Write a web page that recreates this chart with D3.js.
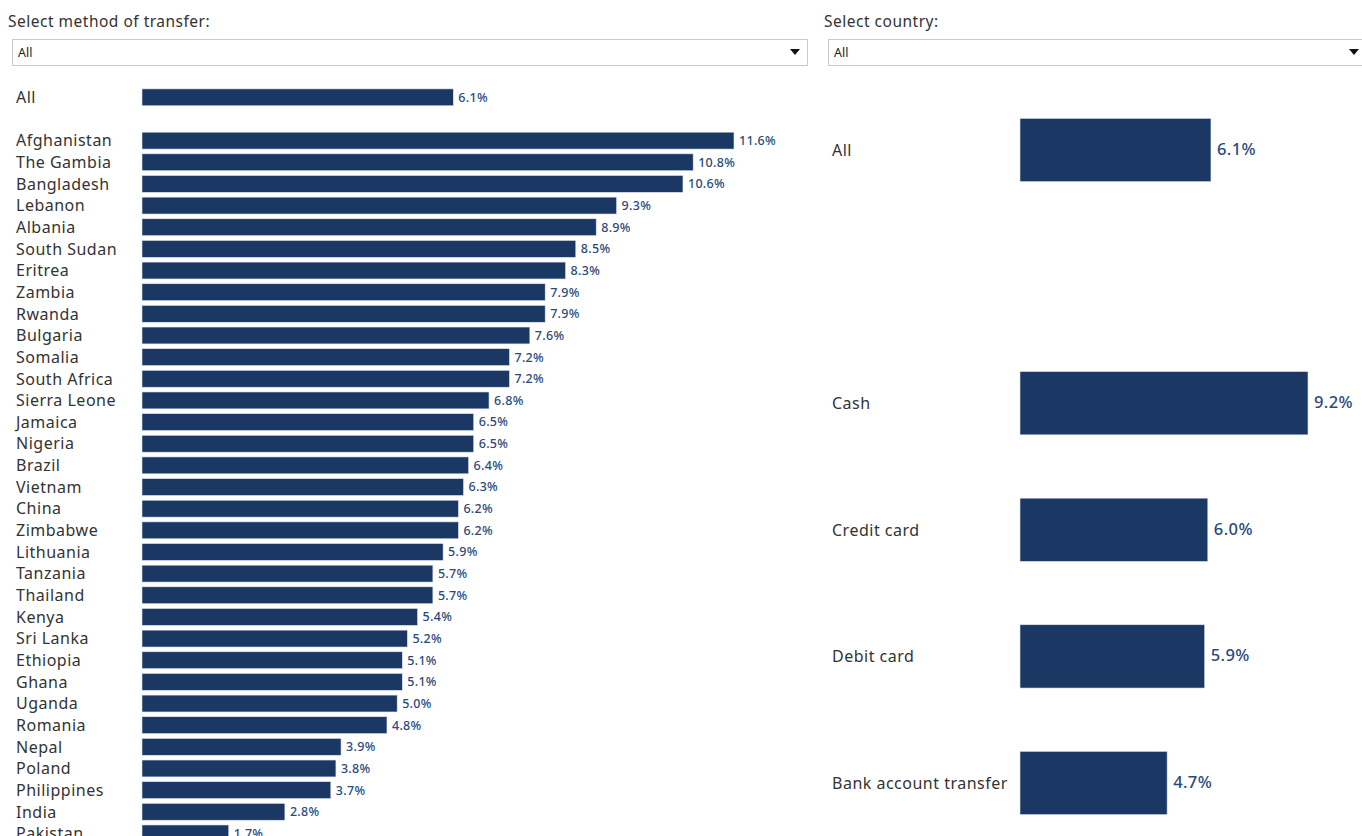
<!DOCTYPE html>
<html><head><meta charset="utf-8">
<script src="https://cdn.jsdelivr.net/npm/d3@7/dist/d3.min.js"></script>
<style>
body{margin:0;background:#fff;overflow:hidden;}
svg text{font-family:"Noto Sans",sans-serif;}
</style></head><body>
<svg id="c" width="1362" height="836"></svg>
<script>
const countries = ["All","Afghanistan","The Gambia","Bangladesh","Lebanon","Albania","South Sudan","Eritrea","Zambia","Rwanda","Bulgaria","Somalia","South Africa","Sierra Leone","Jamaica","Nigeria","Brazil","Vietnam","China","Zimbabwe","Lithuania","Tanzania","Thailand","Kenya","Sri Lanka","Ethiopia","Ghana","Uganda","Romania","Nepal","Poland","Philippines","India","Pakistan"];
const countryValues = [6.1,11.6,10.8,10.6,9.3,8.9,8.5,8.3,7.9,7.9,7.6,7.2,7.2,6.8,6.5,6.5,6.4,6.3,6.2,6.2,5.9,5.7,5.7,5.4,5.2,5.1,5.1,5.0,4.8,3.9,3.8,3.7,2.8,1.7];
const methods = ["All","Cash","Credit card","Debit card","Bank account transfer"];
const methodValues = [6.1,9.2,6.0,5.9,4.7];
const filterTitles = ["Select method of transfer:","Select country:"];
const filterValues = ["All","All"];

const svg = d3.select("#c");
const BAR = "#1b3764", LBL = "#2b4a7c", TXT = "#333333";

// Filters
const filters = [{x:8,bx:12,bw:795,t:filterTitles[0],v:filterValues[0]},{x:824,bx:828,bw:545,t:filterTitles[1],v:filterValues[1]}];
filters.forEach(f=>{
  svg.append("text").attr("x",f.x).attr("y",27).attr("font-size",15.5).attr("letter-spacing",0.5).attr("fill",TXT).text(f.t);
  svg.append("rect").attr("x",f.bx+0.5).attr("y",39.5).attr("width",f.bw).attr("height",26).attr("fill","#fff").attr("stroke","#c9c9c9");
  svg.append("text").attr("x",f.bx+6).attr("y",57).attr("font-size",12.5).attr("fill","#222").text(f.v);
  const ax = Math.min(f.bx+f.bw-12, 1354);
  svg.append("path").attr("d",`M${ax-5},49 L${ax+5},49 L${ax},55 Z`).attr("fill","#111");
});

// Left chart
const leftSlots = [countries[0], "__gap__", ...countries.slice(1)];
const yL = d3.scaleBand().domain(leftSlots).range([86.5, 86.5 + 21.65*leftSlots.length]).paddingInner(0.22).paddingOuter(0.11);
const xL = d3.scaleLinear().domain([0, 11.6]).range([142, 734]);
const lg = svg.append("g");
const lrows = lg.selectAll("g").data(countries.map((c,i)=>({c,v:countryValues[i]}))).join("g");
lrows.append("rect").attr("x",xL(0)).attr("y",d=>yL(d.c)).attr("width",d=>xL(d.v)-xL(0)).attr("height",yL.bandwidth())
  .attr("fill",BAR).attr("stroke","#dfe6f0").attr("stroke-width",0.6);
lrows.append("text").attr("x",16).attr("y",d=>yL(d.c)+yL.bandwidth()/2).attr("dy","0.36em").attr("font-size",16).attr("letter-spacing",0.5).attr("fill",TXT).text(d=>d.c);
lrows.append("text").attr("x",d=>xL(d.v)+5).attr("y",d=>yL(d.c)+yL.bandwidth()/2).attr("dy","0.35em").attr("font-size",12.5).attr("letter-spacing",0.3).attr("font-weight",500).attr("fill",LBL).text(d=>d.v.toFixed(1)+"%");

// Right chart
const rightSlots = [methods[0], "__gap__", ...methods.slice(1)];
const yR = d3.scaleBand().domain(rightSlots).range([86.7, 86.7 + 126.6*rightSlots.length]).paddingInner(0.5).paddingOuter(0.25);
const xR = d3.scaleLinear().domain([0, 9.2]).range([1020, 1308]);
const rg = svg.append("g");
const rrows = rg.selectAll("g").data(methods.map((m,i)=>({m,v:methodValues[i]}))).join("g");
rrows.append("rect").attr("x",xR(0)).attr("y",d=>yR(d.m)).attr("width",d=>xR(d.v)-xR(0)).attr("height",yR.bandwidth())
  .attr("fill",BAR).attr("stroke","#dfe6f0").attr("stroke-width",0.6);
rrows.append("text").attr("x",832).attr("y",d=>yR(d.m)+yR.bandwidth()/2).attr("dy","0.36em").attr("font-size",16).attr("letter-spacing",0.5).attr("fill",TXT).text(d=>d.m);
rrows.append("text").attr("x",d=>xR(d.v)+6).attr("y",d=>yR(d.m)+yR.bandwidth()/2).attr("dy","0.3em").attr("font-size",16.5).attr("letter-spacing",0.4).attr("font-weight",500).attr("fill",LBL).text(d=>d.v.toFixed(1)+"%");
</script>
</body></html>
